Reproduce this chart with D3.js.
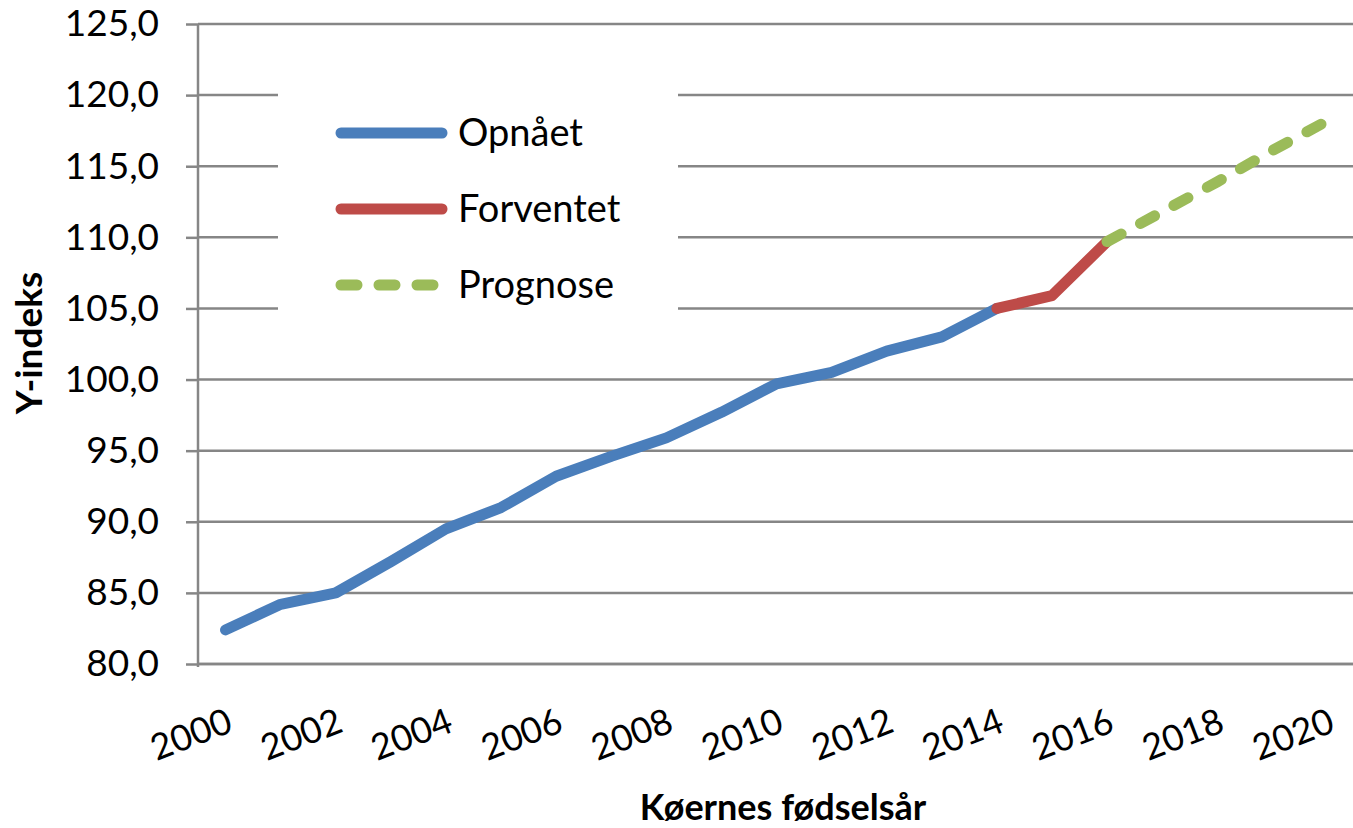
<!DOCTYPE html>
<html>
<head>
<meta charset="utf-8">
<script src="https://cdn.jsdelivr.net/npm/d3@7"></script>
<style>
  body { margin: 0; background: #fff; }
  text { font-family: Lato, "Liberation Sans", sans-serif; fill: #000; }
</style>
</head>
<body>
<div id="chart"></div>
<script>
var width = 1353,
    height = 828;

// data
var years = d3.range(2000, 2021);
var yearLabels = [2000, 2002, 2004, 2006, 2008, 2010, 2012, 2014, 2016, 2018, 2020];
var yTicks = [80, 85, 90, 95, 100, 105, 110, 115, 120, 125];

var opnaaetYears = [2000, 2001, 2002, 2003, 2004, 2005, 2006, 2007, 2008, 2009, 2010, 2011, 2012, 2013, 2014];
var opnaaet = [82.4, 84.2, 85.0, 87.2, 89.5, 91.0, 93.2, 94.6, 95.9, 97.7, 99.7, 100.5, 102.0, 103.0, 105.0];

var forventetYears = [2014, 2015, 2016];
var forventet = [105.0, 105.9, 109.7];

var prognoseYears = [2016, 2017, 2018, 2019, 2020];
var prognose = [109.7, 111.8, 113.9, 116.1, 118.2];

var plotLeft = 198, plotRight = 1355, plotTop = 24, plotBottom = 664;

var x = d3.scaleBand()
    .domain(years)
    .range([plotLeft, plotRight])
    .padding(0);

var y = d3.scaleLinear()
    .domain([80, 125])
    .range([plotBottom, plotTop]);

var da = d3.formatLocale({decimal: ",", thousands: ".", grouping: [3], currency: ["", " kr"]});
var fmt = da.format(".1f");

var svg = d3.select("#chart").append("svg")
    .attr("width", width)
    .attr("height", height);

var grid = "#868686";

// gridlines
svg.append("g").selectAll("line")
    .data(yTicks)
    .enter()
    .append("line")
    .attr("x1", plotLeft)
    .attr("x2", plotRight)
    .attr("y1", function (d) { return y(d); })
    .attr("y2", function (d) { return y(d); })
    .attr("stroke", grid)
    .attr("stroke-width", 2.5);

// y axis
var yAxis = svg.append("g")
    .attr("transform", "translate(" + plotLeft + ",0)")
    .call(d3.axisLeft(y).tickValues(yTicks).tickFormat(fmt).tickSize(12).tickPadding(27));
yAxis.select(".domain").remove();
yAxis.selectAll(".tick line").attr("stroke", grid).attr("stroke-width", 2.5);
yAxis.selectAll(".tick text")
    .attr("font-size", 37)
    .attr("font-family", "Lato, sans-serif")
    .attr("fill", "#000");

svg.append("line")
    .attr("x1", plotLeft).attr("x2", plotLeft)
    .attr("y1", plotTop).attr("y2", plotBottom + 3)
    .attr("stroke", grid)
    .attr("stroke-width", 2.5);

// x axis
svg.append("line")
    .attr("x1", plotLeft).attr("x2", plotRight)
    .attr("y1", plotBottom).attr("y2", plotBottom)
    .attr("stroke", grid)
    .attr("stroke-width", 2.5);

svg.append("g").selectAll("text")
    .data(yearLabels)
    .enter()
    .append("text")
    .attr("transform", function (d) {
        return "translate(" + (x(d) + x.bandwidth() / 2 + 9) + ",731) rotate(-21)";
    })
    .attr("text-anchor", "end")
    .attr("font-size", 36)
    .text(function (d) { return d; });

// series
var line = d3.line()
    .x(function (d) { return x(d[0]) + x.bandwidth() / 2; })
    .y(function (d) { return y(d[1]); });

var series = [
    {name: "Opnået", years: opnaaetYears, values: opnaaet, color: "#4a7ebb", dash: null},
    {name: "Forventet", years: forventetYears, values: forventet, color: "#be4b48", dash: null},
    {name: "Prognose", years: prognoseYears, values: prognose, color: "#9bbb59", dash: "16,22"}
];

svg.append("g").selectAll("path")
    .data(series)
    .enter()
    .append("path")
    .attr("d", function (s) { return line(d3.zip(s.years, s.values)); })
    .attr("fill", "none")
    .attr("stroke", function (s) { return s.color; })
    .attr("stroke-width", 11)
    .attr("stroke-linecap", "round")
    .attr("stroke-linejoin", "round")
    .attr("stroke-dasharray", function (s) { return s.dash; });

// legend
var legend = svg.append("g");
legend.append("rect")
    .attr("x", 278).attr("y", 60)
    .attr("width", 400).attr("height", 285)
    .attr("fill", "#fff");

var items = legend.selectAll("g")
    .data(series)
    .enter()
    .append("g")
    .attr("transform", function (d, i) { return "translate(0," + (133 + i * 76) + ")"; });

items.append("line")
    .attr("x1", 341).attr("x2", 442)
    .attr("stroke", function (s) { return s.color; })
    .attr("stroke-width", 11)
    .attr("stroke-linecap", "round")
    .attr("stroke-dasharray", function (s) { return s.dash; });

items.append("text")
    .attr("x", 458)
    .attr("dy", "0.35em")
    .attr("font-size", 38)
    .text(function (s) { return s.name; });

// axis titles
svg.append("text")
    .attr("transform", "translate(42,343) rotate(-90)")
    .attr("text-anchor", "middle")
    .attr("font-size", 37)
    .attr("font-weight", "bold")
    .text("Y-indeks");

svg.append("text")
    .attr("x", 783)
    .attr("y", 820)
    .attr("text-anchor", "middle")
    .attr("font-size", 36)
    .attr("font-weight", "bold")
    .text("Køernes fødselsår");
</script>
</body>
</html>
